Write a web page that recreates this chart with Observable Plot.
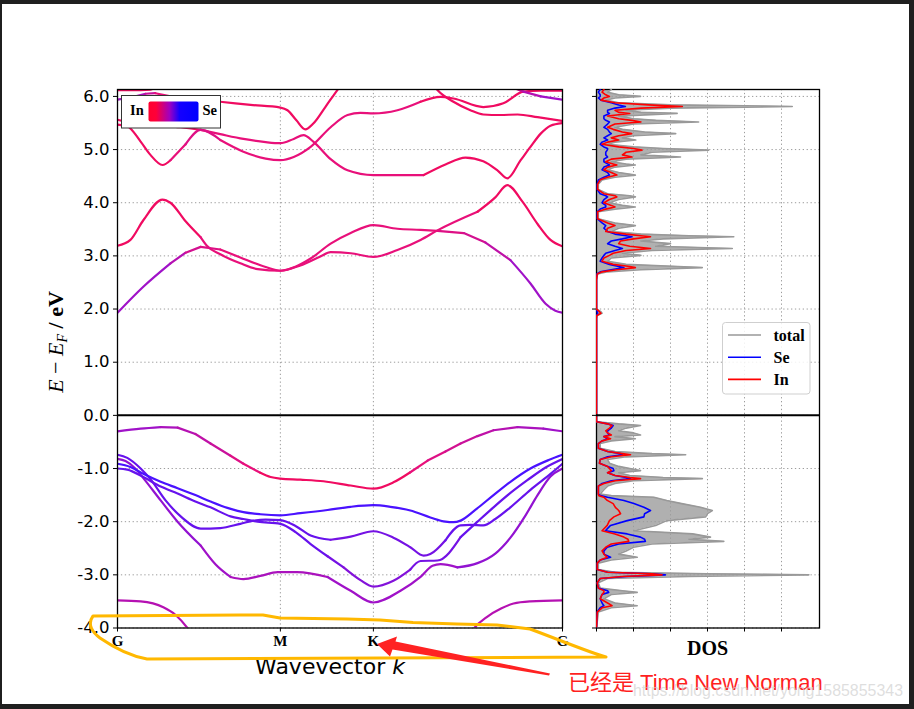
<!DOCTYPE html>
<html>
<head>
<meta charset="utf-8">
<script src="https://cdn.jsdelivr.net/npm/d3@7"></script>
<script src="https://cdn.jsdelivr.net/npm/@observablehq/plot@0.6"></script>
<style>
html,body{margin:0;padding:0;width:914px;height:709px;overflow:hidden;background:#1f1f1f;}
#sheet{position:absolute;left:2px;top:4px;width:907px;height:700px;background:#fff;}
.abs{position:absolute;left:0;top:0;}
</style>
</head>
<body>
<div id="sheet"></div>
<script>
// ---------- axes / labels ----------
const eTicks = [-4, -3, -2, -1, 0, 1, 2, 3, 4, 5, 6];
const kTicks = [0, 0.366, 0.575, 1];
const kLabels = ["G", "M", "K", "G"];
const dosTicks = [0, 1, 2, 3, 4, 5];
const dosSeriesNames = ["total", "Se", "In"];
const dosSeriesColors = ["#999999", "#0000ff", "#ff0000"];
const projNames = ["In", "Se"];

// ---------- bands: [k, E (eV), Se weight w] ----------
const bandU1 = [[0,6.12,.1],[0.052,6.12,.1],[0.074,6.125,.1],[0.097,6.3,.1]];
const bandU2 = [[0,5.94,.5],[0.029,5.98,.45],[0.063,6.05,.3],[0.085,6.06,.15],[0.119,6.0,.1],[0.164,5.95,.1],[0.231,5.9,.1],[0.299,5.84,.1],[0.366,5.79,.1],[0.382,5.74,.1],[0.402,5.55,.1],[0.422,5.38,.1],[0.44,5.49,.1],[0.467,5.8,.1],[0.494,6.12,.1],[0.51,6.3,.1]];
const bandU3 = [[0,5.56,.1],[0.029,5.5,.1],[0.074,5.46,.1],[0.142,5.42,.1],[0.187,5.37,.15],[0.231,5.29,.15],[0.283,5.2,.15],[0.333,5.14,.15],[0.366,5.12,.15],[0.396,5.2,.15],[0.418,5.27,.15],[0.44,5.15,.15],[0.479,4.82,.15],[0.517,4.61,.15],[0.575,4.52,.15],[0.629,4.52,.15],[0.688,4.52,.1],[0.737,4.72,.1],[0.782,4.85,.1],[0.822,4.78,.1],[0.855,4.6,.1],[0.876,4.46,.1],[0.906,4.8,.1],[0.928,5.05,.1],[0.951,5.3,.1],[0.973,5.45,.1],[1,5.5,.1]];
const bandU4 = [[0,5.47,.1],[0.022,5.44,.1],[0.052,5.15,.1],[0.074,4.9,.1],[0.101,4.71,.1],[0.119,4.8,.15],[0.153,5.1,.2],[0.187,5.37,.2],[0.231,5.18,.15],[0.283,4.96,.15],[0.333,4.83,.15],[0.366,4.8,.15],[0.396,4.86,.15],[0.434,5.05,.15],[0.479,5.42,.15],[0.517,5.65,.15],[0.546,5.69,.15],[0.575,5.68,.15],[0.629,5.74,.15],[0.681,5.9,.1],[0.726,5.99,.1],[0.755,5.96,.1],[0.822,5.8,.1],[0.867,5.87,.1],[0.912,6.09,.1],[0.951,6.11,.1],[1,6.11,.1]];
const bandU5 = [[0.703,6.3,.1],[0.719,6.12,.1],[0.755,5.9,.1],[0.793,5.74,.1],[0.822,5.66,.1],[0.86,5.65,.1],[0.899,5.66,.1],[0.944,5.61,.1],[1,5.54,.1]];
const bandU6 = [[0.872,6.22,.3],[0.912,6.09,.4],[0.951,6.0,.5],[1,5.94,.5]];
const bandC1 = [[0,3.19,.1],[0.029,3.3,.1],[0.058,3.67,.1],[0.101,4.06,.1],[0.119,4.0,.1],[0.153,3.65,.1],[0.187,3.35,.15],[0.202,3.18,.15],[0.231,3.03,.15],[0.276,2.86,.15],[0.315,2.75,.15],[0.366,2.72,.15],[0.401,2.8,.15],[0.434,2.95,.15],[0.479,3.23,.15],[0.524,3.43,.15],[0.575,3.58,.15],[0.629,3.51,.15],[0.681,3.49,.15],[0.719,3.47,.2],[0.778,3.43,.25],[0.827,3.25,.35],[0.883,2.92,.5],[0.928,2.48,.5],[0.962,2.1,.5],[0.984,1.97,.5],[1,1.93,.5]];
const bandC2 = [[0,1.93,.5],[0.058,2.42,.5],[0.119,2.86,.4],[0.153,3.06,.25],[0.187,3.17,.2],[0.231,3.12,.15],[0.276,2.97,.15],[0.333,2.79,.15],[0.366,2.72,.15],[0.411,2.82,.15],[0.456,2.99,.15],[0.479,3.07,.15],[0.524,3.05,.15],[0.575,2.98,.15],[0.629,3.11,.15],[0.681,3.3,.15],[0.719,3.48,.15],[0.809,3.83,.1],[0.849,4.1,.1],[0.876,4.33,.1],[0.91,4.02,.1],[0.944,3.6,.1],[0.973,3.3,.1],[1,3.18,.1]];
const bandV1 = [[0,-0.3,.5],[0.052,-0.25,.5],[0.097,-0.22,.45],[0.135,-0.23,.4],[0.175,-0.35,.35],[0.209,-0.53,.3],[0.254,-0.76,.2],[0.283,-0.91,.15],[0.321,-1.08,.1],[0.344,-1.16,.1],[0.366,-1.19,.1],[0.411,-1.21,.1],[0.463,-1.24,.1],[0.524,-1.32,.1],[0.575,-1.38,.1],[0.62,-1.26,.1],[0.658,-1.07,.15],[0.697,-0.85,.2],[0.737,-0.68,.25],[0.771,-0.53,.3],[0.809,-0.39,.35],[0.845,-0.28,.4],[0.899,-0.22,.45],[0.957,-0.25,.5],[1,-0.3,.5]];
const bandL1 = [[0,-0.82,.55],[0.018,-0.86,.55],[0.04,-1.0,.55],[0.058,-1.18,.55],[0.097,-1.6,.55],[0.135,-2.0,.55],[0.187,-2.45,.5],[0.22,-2.8,.5],[0.254,-3.04,.45],[0.283,-3.08,.45],[0.321,-3.02,.45],[0.36,-2.95,.45],[0.404,-2.95,.45],[0.472,-3.04,.5],[0.524,-3.3,.5],[0.575,-3.52,.5],[0.636,-3.3,.5],[0.681,-3.04,.5],[0.708,-2.83,.5],[0.726,-2.8,.5],[0.764,-2.86,.55],[0.809,-2.78,.55],[0.849,-2.6,.55],[0.883,-2.3,.55],[0.917,-1.88,.55],[0.944,-1.5,.55],[0.973,-1.15,.55],[1,-1.0,.55]];
const bandL2 = [[0,-0.74,.7],[0.022,-0.8,.7],[0.052,-1.0,.7],[0.074,-1.2,.7],[0.108,-1.6,.7],[0.142,-1.9,.7],[0.187,-2.13,.7],[0.231,-2.12,.7],[0.276,-2.04,.7],[0.306,-1.98,.7],[0.333,-1.96,.7],[0.366,-1.97,.7],[0.4,-2.08,.7],[0.434,-2.26,.7],[0.479,-2.34,.65],[0.524,-2.28,.65],[0.575,-2.18,.65],[0.62,-2.3,.65],[0.658,-2.48,.65],[0.688,-2.64,.65],[0.703,-2.61,.65],[0.737,-2.35,.7],[0.771,-2.07,.7],[0.793,-2.06,.7],[0.822,-2.07,.7],[0.849,-1.95,.7],[0.883,-1.73,.7],[0.928,-1.4,.7],[0.973,-1.1,.7],[1,-0.91,.7]];
const bandL3 = [[0,-1.0,.7],[0.022,-1.02,.7],[0.058,-1.16,.7],[0.097,-1.34,.7],[0.135,-1.47,.7],[0.175,-1.62,.7],[0.209,-1.73,.7],[0.254,-1.9,.7],[0.283,-1.95,.7],[0.315,-2.0,.7],[0.366,-2.04,.7],[0.401,-2.2,.7],[0.434,-2.42,.7],[0.472,-2.65,.65],[0.508,-2.86,.6],[0.546,-3.1,.6],[0.575,-3.22,.6],[0.62,-3.11,.6],[0.658,-2.9,.65],[0.681,-2.74,.65],[0.719,-2.73,.65],[0.771,-2.29,.7],[0.809,-2.0,.7],[0.845,-1.73,.7],[0.883,-1.46,.7],[0.921,-1.22,.7],[0.962,-0.98,.7],[1,-0.82,.7]];
const bandL4 = [[0,-0.91,.8],[0.029,-0.97,.8],[0.058,-1.1,.8],[0.097,-1.25,.8],[0.135,-1.37,.8],[0.175,-1.5,.8],[0.209,-1.62,.8],[0.247,-1.74,.8],[0.283,-1.82,.8],[0.321,-1.86,.8],[0.366,-1.88,.8],[0.411,-1.84,.8],[0.472,-1.78,.8],[0.524,-1.72,.8],[0.575,-1.69,.8],[0.613,-1.72,.8],[0.658,-1.79,.8],[0.703,-1.92,.8],[0.737,-2.0,.8],[0.755,-2.01,.8],[0.771,-1.98,.8],[0.804,-1.78,.8],[0.845,-1.5,.8],[0.883,-1.25,.8],[0.928,-1.0,.8],[0.969,-0.84,.8],[1,-0.74,.8]];
const bandV5a = [[0,-3.48,.4],[0.052,-3.5,.4],[0.103,-3.61,.4],[0.13,-3.75,.4],[0.157,-4.0,.4],[0.169,-4.15,.4]];
const bandV5b = [[0.791,-4.15,.4],[0.802,-4.0,.4],[0.829,-3.8,.4],[0.863,-3.63,.4],[0.89,-3.54,.4],[0.928,-3.5,.4],[1,-3.48,.4]];

// ---------- DOS ----------
const dosE = [
  6.13,6.08,6.03,6.00,5.97,5.93,5.88,5.84,5.81,5.78,
  5.74,5.70,5.68,5.63,5.58,5.55,5.52,5.48,5.42,5.38,
  5.33,5.30,5.26,5.22,5.18,5.14,5.10,5.05,5.02,4.99,
  4.95,4.90,4.86,4.82,4.77,4.73,4.71,4.67,4.62,4.57,
  4.52,4.48,4.43,4.35,4.25,4.17,4.13,4.11,4.06,4.00,
  3.95,3.92,3.88,3.83,3.70,3.62,3.57,3.52,3.46,3.41,
  3.38,3.36,3.32,3.28,3.23,3.18,3.14,3.10,3.05,3.01,
  2.96,2.90,2.84,2.80,2.78,2.74,2.70,2.66,2.55,2.00,
  1.95,1.92,1.88,1.83,-0.12,-0.16,-0.19,-0.24,-0.29,-0.33,
  -0.37,-0.40,-0.44,-0.48,-0.53,-0.62,-0.68,-0.72,-0.74,-0.78,
  -0.83,-0.90,-0.96,-1.00,-1.04,-1.08,-1.13,-1.17,-1.19,-1.23,
  -1.28,-1.33,-1.40,-1.48,-1.51,-1.54,-1.60,-1.66,-1.73,-1.79,
  -1.85,-1.91,-1.98,-2.07,-2.17,-2.23,-2.29,-2.33,-2.37,-2.42,
  -2.48,-2.55,-2.61,-2.67,-2.72,-2.78,-2.90,-2.95,-2.98,-3.00,
  -3.03,-3.07,-3.15,-3.25,-3.30,-3.33,-3.37,-3.45,-3.53,-3.58,
  -3.62,-3.70,-4.00];
const dosTotal = [
  0.4,0.3,0.6,1.19,0.5,0.25,0.6,2.0,5.29,2.0,
  0.8,1.2,2.18,0.6,1.0,1.6,2.76,1.0,0.5,0.7,
  1.3,2.14,1.0,0.7,1.06,0.5,0.3,1.0,1.8,3.03,
  1.5,1.2,2.27,0.8,0.4,0.8,1.05,0.5,0.3,0.6,
  1.05,0.5,0.15,0.05,0.05,0.3,0.9,1.05,0.6,0.35,
  0.7,1.05,0.5,0.05,0.05,0.5,1.05,0.6,0.4,1.2,
  2.5,3.71,1.8,1.2,2.0,1.6,3.67,1.5,0.7,1.2,
  0.4,0.3,0.8,2.2,2.86,1.2,0.3,0.03,0,0,
  0.12,0.15,0.02,0,0,0.6,1.19,0.8,0.6,1.0,
  1.19,0.5,1.05,0.4,0.1,0.1,0.5,1.5,2.41,0.8,
  0.3,0.35,0.6,0.9,1.19,0.6,0.9,1.8,2.86,1.0,
  0.5,0.3,0.2,0.1,0.4,1.55,1.9,2.3,2.81,3.13,
  3.0,2.95,1.9,1.6,1.01,2.6,3.08,2.5,3.44,1.5,
  1.0,0.8,0.6,1.1,0.4,0.05,0.05,0.5,3.0,5.74,
  2.5,0.3,0.05,0.1,0.7,1.1,0.4,0.2,0.5,1.1,
  0.4,0.05,0];
const dosSe = [
  0.1,0.05,0.1,0.1,0.05,0.12,0.4,0.6,0.78,0.5,
  0.3,0.3,0.35,0.2,0.2,0.25,0.35,0.3,0.2,0.3,
  0.35,0.4,0.3,0.2,0.3,0.15,0.1,0.2,0.3,0.29,
  0.25,0.25,0.3,0.2,0.2,0.3,0.35,0.2,0.15,0.3,
  0.35,0.2,0.05,0.02,0.02,0.1,0.25,0.3,0.2,0.15,
  0.25,0.25,0.1,0.02,0.02,0.15,0.25,0.2,0.3,0.5,
  0.8,0.96,0.7,0.4,0.3,0.5,0.7,0.5,0.25,0.2,
  0.15,0.1,0.35,0.6,0.74,0.4,0.1,0.01,0,0,
  0.02,0.03,0,0,0,0.3,0.45,0.4,0.3,0.3,
  0.35,0.2,0.3,0.15,0.05,0.05,0.3,0.65,0.7,0.3,
  0.1,0.08,0.3,0.45,0.47,0.3,0.5,0.8,0.92,0.4,
  0.15,0.05,0.05,0.05,0.11,0.3,0.74,1.01,1.28,1.46,
  1.3,1.28,0.83,0.38,0.24,0.83,1.19,1.3,1.32,0.6,
  0.29,0.2,0.2,0.38,0.1,0.02,0.02,0.3,1.5,1.86,
  0.8,0.1,0.02,0.05,0.3,0.33,0.15,0.1,0.15,0.2,
  0.1,0.02,0];
const dosIn = [
  0.2,0.15,0.25,0.35,0.2,0.12,0.5,1.4,2.32,1.2,
  0.5,0.6,0.9,0.3,0.6,0.95,1.2,0.5,0.3,0.45,
  0.7,0.95,0.6,0.4,0.6,0.3,0.15,0.6,1.0,1.23,
  0.8,0.7,0.96,0.4,0.25,0.45,0.55,0.3,0.2,0.4,
  0.55,0.3,0.1,0.03,0.03,0.2,0.5,0.55,0.35,0.2,
  0.4,0.5,0.25,0.03,0.03,0.3,0.5,0.3,0.25,0.8,
  1.2,1.46,1.0,0.65,0.6,0.9,1.46,0.8,0.45,0.35,
  0.2,0.15,0.45,0.9,1.05,0.55,0.15,0.02,0,0,
  0.08,0.12,0.01,0,0,0.3,0.42,0.35,0.25,0.3,
  0.4,0.2,0.38,0.15,0.05,0.05,0.3,0.7,0.92,0.4,
  0.1,0.08,0.3,0.35,0.4,0.3,0.5,0.9,1.19,0.5,
  0.2,0.05,0.05,0.05,0.06,0.2,0.29,0.45,0.51,0.6,
  0.65,0.47,0.35,0.29,0.15,0.5,0.74,0.85,0.87,0.4,
  0.25,0.15,0.2,0.29,0.1,0.02,0.02,0.3,1.5,1.77,
  0.7,0.1,0.02,0.05,0.2,0.2,0.15,0.1,0.3,0.42,
  0.15,0.02,0];

// ---------- build tables ----------
const bandList = [["U1",bandU1],["U2",bandU2],["U3",bandU3],["U4",bandU4],["U5",bandU5],["U6",bandU6],
  ["C1",bandC1],["C2",bandC2],["V1",bandV1],["L1",bandL1],["L2",bandL2],["L3",bandL3],["L4",bandL4],["V5a",bandV5a],["V5b",bandV5b]];
const mix = d3.scaleLinear().domain([0, 0.15, 0.5, 0.8, 1])
  .range(["#ff0030", "#e8107a", "#a012c8", "#4a12ff", "#0000ff"]).clamp(true);
const bandRows = bandList.flatMap(([id, pts]) =>
  pts.map(([k, E, w]) => ({id, k, E, c: mix(Math.round(w * 20) / 20)})));
const dosRows = dosE.map((E, i) => ({E, total: dosTotal[i], se: dosSe[i], inn: dosIn[i]}));

const grid = {stroke: "#9c9c9c", strokeOpacity: 1, strokeDasharray: "1.3,2.6", strokeWidth: 1};

const bandChart = Plot.plot({
  width: 580, height: 700,
  marginLeft: 117, marginRight: 18, marginTop: 89, marginBottom: 72.5,
  x: {domain: [0, 1], label: null},
  y: {domain: [-4, 6.13], label: null},
  style: {background: "transparent", overflow: "visible"},
  marks: [
    Plot.gridY(eTicks, grid),
    Plot.gridX(kTicks.slice(1, 3), grid),
    Plot.line(bandRows, {x: "k", y: "E", z: "id", stroke: "c", strokeWidth: 2.2, curve: "monotone-x", clip: true}),
    Plot.ruleY([0], {stroke: "black", strokeWidth: 2}),
    Plot.frame({stroke: "black", strokeWidth: 1.3}),
    Plot.axisY(eTicks, {tickSize: 4, tickPadding: 4, tickFormat: d => d.toFixed(1), fontSize: 16.5, fontFamily: "DejaVu Sans", label: null}),
    Plot.axisX(kTicks, {tickSize: 4, tickPadding: 3, tickFormat: d => kLabels[kTicks.indexOf(d)], fontSize: 15, fontFamily: "Liberation Serif", fontWeight: "bold", label: null})
  ]
});
bandChart.classList.add("abs");
bandChart.style.left = "0px"; bandChart.style.top = "0px";
document.body.appendChild(bandChart);

const dosChart = Plot.plot({
  width: 280, height: 700,
  marginLeft: 36, marginRight: 21, marginTop: 89, marginBottom: 72.5,
  x: {domain: [0, 223 / 37], label: null},
  y: {domain: [-4, 6.13], label: null},
  style: {background: "transparent", overflow: "visible"},
  marks: [
    Plot.areaX(dosRows, {y: "E", x1: 0, x2: "total", fill: "#b0b0b0", clip: true}),
    Plot.gridY(eTicks, grid),
    Plot.gridX(dosTicks.slice(1), grid),
    Plot.frame({stroke: "black", strokeWidth: 1.3}),
    Plot.line(dosRows, {x: "total", y: "E", stroke: dosSeriesColors[0], strokeWidth: 1.6, clip: true}),
    Plot.line(dosRows, {x: "se", y: "E", stroke: dosSeriesColors[1], strokeWidth: 1.6, clip: true}),
    Plot.line(dosRows, {x: "inn", y: "E", stroke: dosSeriesColors[2], strokeWidth: 1.6, clip: true}),
    Plot.ruleY([0], {stroke: "black", strokeWidth: 2}),
    Plot.axisX(dosTicks, {tickSize: 4, tickFormat: () => "", label: null}),
    Plot.axisY(eTicks, {tickSize: 4, tickFormat: () => "", label: null})
  ]
});
dosChart.classList.add("abs");
dosChart.style.left = "560px"; dosChart.style.top = "0px";
document.body.appendChild(dosChart);

// ---------- overlay: labels, legends, annotation ----------
const legendRowsSvg = dosSeriesNames.map((n, i) => {
  const y = 335 + i * 22.2;
  return `<line x1="728" x2="761" y1="${y}" y2="${y}" stroke="${dosSeriesColors[i]}" stroke-width="1.6"/>
  <text x="773.5" y="${y + 5.6}" font-family="Liberation Serif" font-weight="bold" font-size="16">${n}</text>`;
}).join("");

const ov = `
<svg class="abs" width="914" height="709" style="pointer-events:none" xmlns="http://www.w3.org/2000/svg">
 <defs><linearGradient id="inse" x1="0" x2="1" y1="0" y2="0">
  <stop offset="0" stop-color="#ff0030"/><stop offset="0.15" stop-color="#ff0038"/>
  <stop offset="0.42" stop-color="#a000c0"/><stop offset="0.62" stop-color="#1400ff"/>
  <stop offset="1" stop-color="#0000ff"/></linearGradient></defs>
 <rect x="121.5" y="95.5" width="99" height="32.5" fill="#fff" stroke="#333" stroke-width="1"/>
 <text x="130" y="115" font-family="Liberation Serif" font-weight="bold" font-size="14.5">${projNames[0]}</text>
 <rect x="148.5" y="101.5" width="50" height="20" rx="2" fill="url(#inse)"/>
 <text x="202.5" y="115" font-family="Liberation Serif" font-weight="bold" font-size="14.5">${projNames[1]}</text>
 <rect x="722.5" y="322.5" width="87.5" height="71.5" rx="3" fill="#fff" fill-opacity="0.85" stroke="#cfcfcf" stroke-width="1"/>
 ${legendRowsSvg}
 <text transform="translate(63,342) rotate(-90)" text-anchor="middle" font-family="Liberation Serif" font-size="22"><tspan font-style="italic">E</tspan><tspan> − </tspan><tspan font-style="italic">E</tspan><tspan font-style="italic" font-size="14" dy="4">F</tspan><tspan dy="-4" font-weight="bold"> / eV</tspan></text>
 <text x="330" y="673.5" text-anchor="middle" font-family="DejaVu Sans" font-size="22">Wavevector <tspan font-style="italic">k</tspan></text>
 <text x="707.5" y="655" text-anchor="middle" font-family="Liberation Serif" font-weight="bold" font-size="20">DOS</text>
 <path d="M93,616 L240,615 L263,615 L280,618 L347,619 L380,620 L413,622.5 L457,624 L497,625 L530,629 C560,640 588,652 606,657 L147,659 C130,656 113,647 100,638 C92,632 87,624 93,616 Z" fill="none" stroke="#ffb800" stroke-width="3" stroke-linejoin="round"/>
 <path d="M377,644 L397,636.5 L395.5,641.5 L550,673.5 L549,675.5 L392.5,649.5 L390,656.5 Z" fill="#ff2222"/>
 <text x="568" y="690" font-family="'Liberation Sans','Noto Sans CJK SC'" font-size="22" fill="#ff1f1f">已经是 Time New Norman</text>
 <text x="633" y="696" font-family="Liberation Sans" font-size="17" fill="#d0d0d0" fill-opacity="0.7" textLength="270" lengthAdjust="spacingAndGlyphs">https://blog.csdn.net/yong1585855343</text>
</svg>`;
const holder = document.createElement("div");
holder.innerHTML = ov;
document.body.appendChild(holder.firstElementChild);
</script>
</body>
</html>
